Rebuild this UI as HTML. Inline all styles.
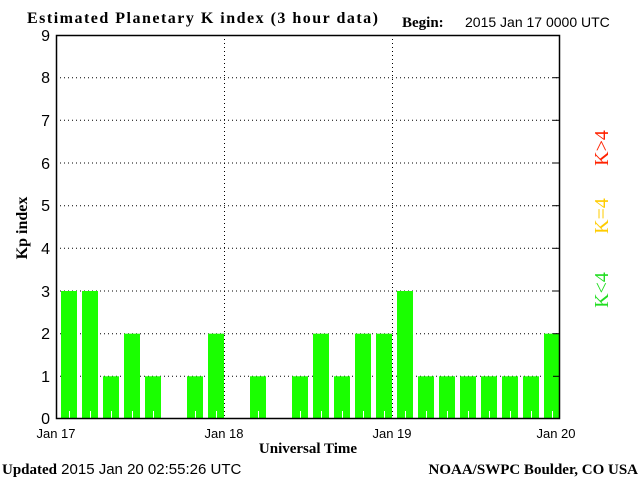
<!DOCTYPE html>
<html><head><style>body{margin:0;background:#fff}</style></head><body>
<svg width="640" height="480" xmlns="http://www.w3.org/2000/svg" font-family="Liberation Sans, sans-serif">
<rect width="640" height="480" fill="#fff"/>
<text x="27" y="23" font-family="Liberation Serif, serif" font-weight="bold" font-size="16" textLength="351">Estimated Planetary K index (3 hour data)</text>
<text x="402" y="27" font-family="Liberation Serif, serif" font-weight="bold" font-size="15">Begin:</text>
<text x="465" y="27" font-size="14">2015 Jan 17 0000 UTC</text>
<g stroke="#000" stroke-dasharray="1,3" stroke-width="1">
<line x1="56" x2="560" y1="376.3" y2="376.3"/><line x1="56" x2="560" y1="333.7" y2="333.7"/>
<line x1="56" x2="560" y1="291" y2="291"/><line x1="56" x2="560" y1="248.3" y2="248.3"/>
<line x1="56" x2="560" y1="205.7" y2="205.7"/><line x1="56" x2="560" y1="163" y2="163"/>
<line x1="56" x2="560" y1="120.3" y2="120.3"/><line x1="56" x2="560" y1="77.7" y2="77.7"/>
<line x1="224.5" x2="224.5" y1="35" y2="419"/><line x1="392.5" x2="392.5" y1="35" y2="419"/>
</g>
<g fill="#1aff00">
<rect x="61" y="291" width="16" height="128"/>
<rect x="82" y="291" width="16" height="128"/>
<rect x="103" y="376.3" width="16" height="42.7"/>
<rect x="124" y="333.7" width="16" height="85.3"/>
<rect x="145" y="376.3" width="16" height="42.7"/>
<rect x="187" y="376.3" width="16" height="42.7"/>
<rect x="208" y="333.7" width="16" height="85.3"/>
<rect x="250" y="376.3" width="16" height="42.7"/>
<rect x="292" y="376.3" width="16" height="42.7"/>
<rect x="313" y="333.7" width="16" height="85.3"/>
<rect x="334" y="376.3" width="16" height="42.7"/>
<rect x="355" y="333.7" width="16" height="85.3"/>
<rect x="376" y="333.7" width="16" height="85.3"/>
<rect x="397" y="291" width="16" height="128"/>
<rect x="418" y="376.3" width="16" height="42.7"/>
<rect x="439" y="376.3" width="16" height="42.7"/>
<rect x="460" y="376.3" width="16" height="42.7"/>
<rect x="481" y="376.3" width="16" height="42.7"/>
<rect x="502" y="376.3" width="16" height="42.7"/>
<rect x="523" y="376.3" width="16" height="42.7"/>
<rect x="544" y="333.7" width="16" height="85.3"/>
</g>
<g fill="#fff">
<rect x="69" y="411" width="1" height="8"/><rect x="90" y="411" width="1" height="8"/><rect x="111" y="411" width="1" height="8"/><rect x="132" y="411" width="1" height="8"/><rect x="153" y="411" width="1" height="8"/><rect x="195" y="411" width="1" height="8"/><rect x="216" y="411" width="1" height="8"/><rect x="258" y="411" width="1" height="8"/><rect x="300" y="411" width="1" height="8"/><rect x="321" y="411" width="1" height="8"/><rect x="342" y="411" width="1" height="8"/><rect x="363" y="411" width="1" height="8"/><rect x="384" y="411" width="1" height="8"/><rect x="405" y="411" width="1" height="8"/><rect x="426" y="411" width="1" height="8"/><rect x="447" y="411" width="1" height="8"/><rect x="468" y="411" width="1" height="8"/><rect x="489" y="411" width="1" height="8"/><rect x="510" y="411" width="1" height="8"/><rect x="531" y="411" width="1" height="8"/><rect x="552" y="411" width="1" height="8"/>
</g>
<g stroke="#000">
<line x1="553" x2="560" y1="376.3" y2="376.3"/><line x1="553" x2="560" y1="333.7" y2="333.7"/><line x1="553" x2="560" y1="291" y2="291"/><line x1="553" x2="560" y1="248.3" y2="248.3"/><line x1="553" x2="560" y1="205.7" y2="205.7"/><line x1="553" x2="560" y1="163" y2="163"/><line x1="553" x2="560" y1="120.3" y2="120.3"/><line x1="553" x2="560" y1="77.7" y2="77.7"/>
</g>
<rect x="56.5" y="35.5" width="503" height="383" fill="none" stroke="#000" stroke-width="1.5"/>
<g font-size="16" text-anchor="end">
<text x="50" y="424">0</text><text x="50" y="382">1</text><text x="50" y="339">2</text><text x="50" y="297">3</text><text x="50" y="254">4</text><text x="50" y="211">5</text><text x="50" y="169">6</text><text x="50" y="126">7</text><text x="50" y="83">8</text><text x="50" y="41">9</text>
</g>
<g font-size="13" text-anchor="middle">
<text x="56" y="438">Jan 17</text><text x="224" y="438">Jan 18</text><text x="392" y="438">Jan 19</text><text x="556" y="438">Jan 20</text>
</g>
<text x="308" y="453" text-anchor="middle" font-family="Liberation Serif, serif" font-weight="bold" font-size="15">Universal Time</text>
<text transform="translate(27,228) rotate(-90)" text-anchor="middle" font-family="Liberation Serif, serif" font-weight="bold" font-size="16">Kp index</text>
<g font-size="20" text-anchor="middle" font-family="Liberation Serif, serif">
<text transform="translate(608,290) rotate(-90)" fill="#22dd22">K&lt;4</text>
<text transform="translate(608,216) rotate(-90)" fill="#ffcc00">K=4</text>
<text transform="translate(608,148) rotate(-90)" fill="#ff2200">K&gt;4</text>
</g>
<text x="2" y="474" font-size="15"><tspan font-family="Liberation Serif, serif" font-weight="bold">Updated</tspan> 2015 Jan 20 02:55:26 UTC</text>
<text x="638" y="474" text-anchor="end" font-family="Liberation Serif, serif" font-weight="bold" font-size="15">NOAA/SWPC Boulder, CO USA</text>
</svg>
</body></html>
